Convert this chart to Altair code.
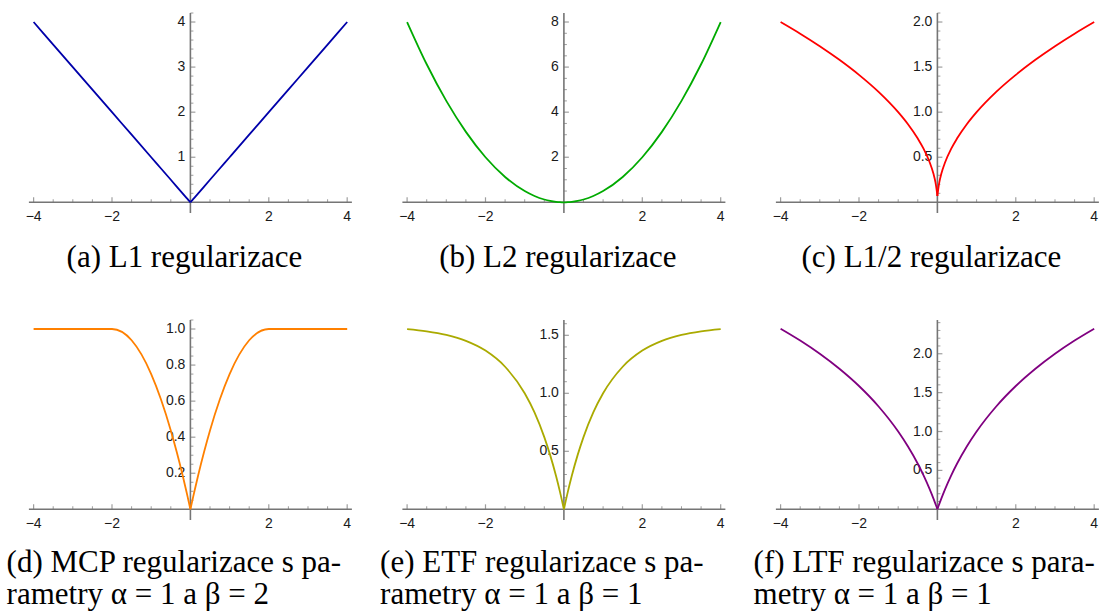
import altair as alt
import pandas as pd

# ---------------- data ----------------
X = [-4, -3.5, -3, -2.5, -2, -1.5, -1, -0.75, -0.5, -0.35, -0.2, -0.1, -0.05, -0.02, 0,
     0.02, 0.05, 0.1, 0.2, 0.35, 0.5, 0.75, 1, 1.5, 2, 2.5, 3, 3.5, 4]

Y_L1 = [4, 3.5, 3, 2.5, 2, 1.5, 1, 0.75, 0.5, 0.35, 0.2, 0.1, 0.05, 0.02, 0,
        0.02, 0.05, 0.1, 0.2, 0.35, 0.5, 0.75, 1, 1.5, 2, 2.5, 3, 3.5, 4]
Y_L2 = [8, 6.125, 4.5, 3.125, 2, 1.125, 0.5, 0.281, 0.125, 0.061, 0.02, 0.005, 0.001, 0.0, 0,
        0.0, 0.001, 0.005, 0.02, 0.061, 0.125, 0.281, 0.5, 1.125, 2, 3.125, 4.5, 6.125, 8]
Y_L12 = [2, 1.871, 1.732, 1.581, 1.414, 1.225, 1, 0.866, 0.707, 0.592, 0.447, 0.316, 0.224, 0.141, 0.07,
         0.141, 0.224, 0.316, 0.447, 0.592, 0.707, 0.866, 1, 1.225, 1.414, 1.581, 1.732, 1.871, 2]
Y_MCP = [1, 1, 1, 1, 1, 0.9375, 0.75, 0.609, 0.4375, 0.319, 0.19, 0.0975, 0.049, 0.02, 0,
         0.02, 0.049, 0.0975, 0.19, 0.319, 0.4375, 0.609, 0.75, 0.9375, 1, 1, 1, 1, 1]
Y_ETF = [1.553, 1.534, 1.503, 1.452, 1.368, 1.229, 1.0, 0.835, 0.6225, 0.467, 0.287, 0.1505, 0.077, 0.031, 0,
         0.031, 0.077, 0.1505, 0.287, 0.467, 0.6225, 0.835, 1.0, 1.229, 1.368, 1.452, 1.503, 1.534, 1.553]
Y_LTF = [2.322, 2.170, 2.0, 1.807, 1.585, 1.322, 1.0, 0.807, 0.585, 0.433, 0.263, 0.1375, 0.070, 0.029, 0,
         0.029, 0.070, 0.1375, 0.263, 0.433, 0.585, 0.807, 1.0, 1.322, 1.585, 1.807, 2.0, 2.170, 2.322]

X_MAJOR = [-4, -2, 2, 4]
X_LABELS = ["\u22124", "\u22122", "2", "4"]
X_MINOR = [-3.5, -3, -2.5, -1.5, -1, -0.5, 0.5, 1, 1.5, 2.5, 3, 3.5]

Y_MAJOR_A = [1, 2, 3, 4]
Y_LABELS_A = ["1", "2", "3", "4"]
Y_MAJOR_B = [2, 4, 6, 8]
Y_LABELS_B = ["2", "4", "6", "8"]
Y_MAJOR_C = [0.5, 1.0, 1.5, 2.0]
Y_LABELS_C = ["0.5", "1.0", "1.5", "2.0"]
Y_MAJOR_D = [0.2, 0.4, 0.6, 0.8, 1.0]
Y_LABELS_D = ["0.2", "0.4", "0.6", "0.8", "1.0"]
Y_MAJOR_E = [0.5, 1.0, 1.5]
Y_LABELS_E = ["0.5", "1.0", "1.5"]
Y_MAJOR_F = [0.5, 1.0, 1.5, 2.0]
Y_LABELS_F = ["0.5", "1.0", "1.5", "2.0"]

CAPTIONS = [
    ["(a) L1 regularizace"],
    ["(b) L2 regularizace"],
    ["(c) L1/2 regularizace"],
    ["(d) MCP regularizace s pa-", "rametry \u03b1 = 1 a \u03b2 = 2"],
    ["(e) ETF regularizace s pa-", "rametry \u03b1 = 1 a \u03b2 = 1"],
    ["(f) LTF regularizace s para-", "metry \u03b1 = 1 a \u03b2 = 1"],
]

COLORS = ["#0000AA", "#00AA00", "#FF0000", "#FF8000", "#AAAA00", "#800080"]

# ---------------- styling ----------------
XDOM = [-4.12, 4.12]
W, H = 323, 200
AX = "#757575"
LAB = "#1a1a1a"
TICK_FONT = "Liberation Sans"
CAP_FONT = "Liberation Serif, Times New Roman, serif"


def minor_ticks(step, top, majors):
    out = []
    k = 1
    while k * step <= top + 1e-9:
        v = round(k * step, 4)
        if all(abs(v - m) > 1e-6 for m in majors):
            out.append(v)
        k += 1
    return out


def panel(ys, color, ydom, ymaj, ylab, ystep, caption, row):
    xs = alt.Scale(domain=XDOM, nice=False, zero=False)
    ysc = alt.Scale(domain=ydom, nice=False, zero=False)

    rows = []
    for x, y in zip(X, ys):
        if x <= 0:
            rows.append({"x": x, "y": y, "side": "L"})
        if x >= 0:
            rows.append({"x": x, "y": y, "side": "R"})
    curve = alt.Chart(pd.DataFrame(rows)).mark_line(
        interpolate="monotone", color=color, strokeWidth=1.8
    ).encode(
        x=alt.X("x:Q", scale=xs, axis=None),
        y=alt.Y("y:Q", scale=ysc, axis=None),
        detail="side:N",
    )

    xaxis = alt.Chart(pd.DataFrame({"a": [XDOM[0]], "b": [XDOM[1]], "z": [0]})).mark_rule(
        color=AX, strokeWidth=1.6
    ).encode(
        x=alt.X("a:Q", scale=xs, axis=None), x2="b:Q",
        y=alt.Y("z:Q", scale=ysc, axis=None),
    )
    yaxis = alt.Chart(pd.DataFrame({"z": [0], "a": [ydom[0]], "b": [ydom[1]]})).mark_rule(
        color=AX, strokeWidth=1.6
    ).encode(
        x=alt.X("z:Q", scale=xs, axis=None),
        y=alt.Y("a:Q", scale=ysc, axis=None), y2="b:Q",
    )

    xmaj = alt.Chart(pd.DataFrame({"v": X_MAJOR, "z": 0, "t": X_LABELS})).mark_tick(
        orient="vertical", size=5, thickness=1.2, yOffset=-2.5, color=AX
    ).encode(x=alt.X("v:Q", scale=xs, axis=None), y=alt.Y("z:Q", scale=ysc, axis=None))
    xmin = alt.Chart(pd.DataFrame({"v": X_MINOR, "z": 0})).mark_tick(
        orient="vertical", size=3, thickness=1.0, yOffset=-1.5, color=AX
    ).encode(x=alt.X("v:Q", scale=xs, axis=None), y=alt.Y("z:Q", scale=ysc, axis=None))
    xlab = alt.Chart(pd.DataFrame({"v": X_MAJOR, "z": 0, "t": X_LABELS})).mark_text(
        dy=15, fontSize=14, font=TICK_FONT, color=LAB
    ).encode(x=alt.X("v:Q", scale=xs, axis=None), y=alt.Y("z:Q", scale=ysc, axis=None), text="t:N")

    ymajc = alt.Chart(pd.DataFrame({"v": ymaj, "z": 0})).mark_tick(
        orient="horizontal", size=5, thickness=1.2, xOffset=2.5, color=AX
    ).encode(y=alt.Y("v:Q", scale=ysc, axis=None), x=alt.X("z:Q", scale=xs, axis=None))
    ymin = minor_ticks(ystep, ydom[1], ymaj)
    yminc = alt.Chart(pd.DataFrame({"v": ymin, "z": 0})).mark_tick(
        orient="horizontal", size=3, thickness=1.0, xOffset=1.5, color=AX
    ).encode(y=alt.Y("v:Q", scale=ysc, axis=None), x=alt.X("z:Q", scale=xs, axis=None))
    ylabc = alt.Chart(pd.DataFrame({"v": ymaj, "z": 0, "t": ylab})).mark_text(
        align="right", baseline="middle", dx=-5, fontSize=14, font=TICK_FONT, color=LAB
    ).encode(y=alt.Y("v:Q", scale=ysc, axis=None), x=alt.X("z:Q", scale=xs, axis=None), text="t:N")

    if row == 0:
        title = alt.TitleParams(
            text=caption, orient="bottom", anchor="middle", dx=-6, offset=43,
            font=CAP_FONT, fontSize=31, fontWeight="normal", color="black",
            baseline="alphabetic", lineHeight=32,
        )
    else:
        title = alt.TitleParams(
            text=caption, orient="bottom", anchor="start", dx=-19, offset=41,
            font=CAP_FONT, fontSize=31, fontWeight="normal", color="black",
            baseline="alphabetic", lineHeight=32,
        )

    return alt.layer(xaxis, yaxis, xmin, xmaj, yminc, ymajc, xlab, ylabc, curve).properties(
        width=W, height=H, title=title
    )


panels = [
    panel(Y_L1, COLORS[0], [-0.237, 4.2], Y_MAJOR_A, Y_LABELS_A, 0.2, CAPTIONS[0], 0),
    panel(Y_L2, COLORS[1], [-0.474, 8.4], Y_MAJOR_B, Y_LABELS_B, 0.5, CAPTIONS[1], 0),
    panel(Y_L12, COLORS[2], [-0.1185, 2.1], Y_MAJOR_C, Y_LABELS_C, 0.1, CAPTIONS[2], 0),
    panel(Y_MCP, COLORS[3], [-0.0593, 1.05], Y_MAJOR_D, Y_LABELS_D, 0.05, CAPTIONS[3], 1),
    panel(Y_ETF, COLORS[4], [-0.0922, 1.632], Y_MAJOR_E, Y_LABELS_E, 0.1, CAPTIONS[4], 1),
    panel(Y_LTF, COLORS[5], [-0.1378, 2.434], Y_MAJOR_F, Y_LABELS_F, 0.1, CAPTIONS[5], 1),
]

chart = alt.concat(
    *panels, columns=3, spacing={"row": 107, "column": 50.5}, bounds="flush"
).properties(
    padding={"left": 5.9, "top": 12, "right": 0, "bottom": 0},
    background="white",
).configure_view(stroke=None)

chart.save("out.html", embed_options={"renderer": "svg", "actions": False})
